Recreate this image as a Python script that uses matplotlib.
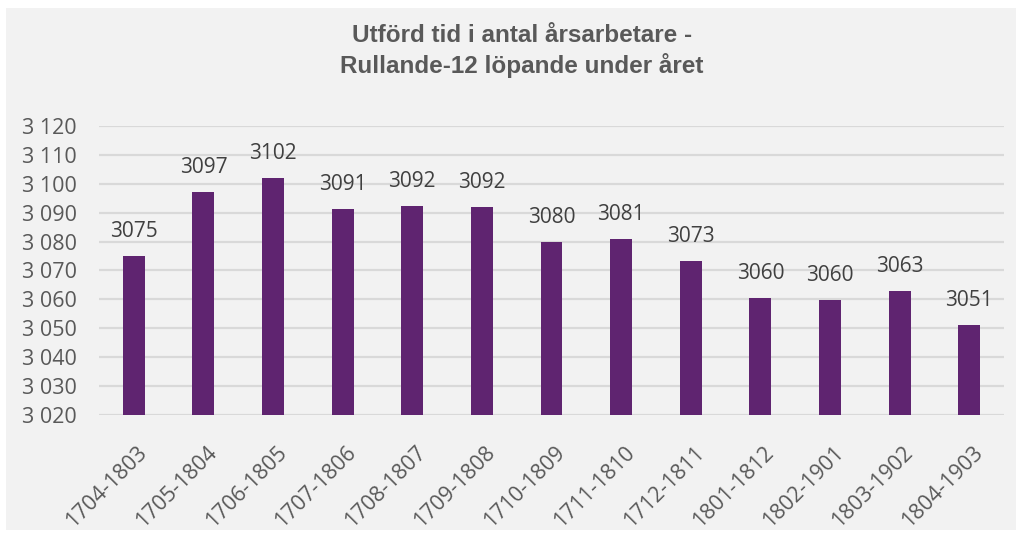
import matplotlib
matplotlib.use('Agg')
from matplotlib import pyplot as plt
from matplotlib.patches import Rectangle
from matplotlib.transforms import ScaledTranslation

# Data
periods = ['1704-1803', '1705-1804', '1706-1805', '1707-1806', '1708-1807',
           '1709-1808', '1710-1809', '1711-1810', '1712-1811', '1801-1812',
           '1802-1901', '1803-1902', '1804-1903']
values = [3075.0, 3097.2, 3102.0, 3091.3, 3092.4, 3092.0, 3079.8,
          3080.8, 3073.2, 3060.4, 3059.7, 3062.8, 3051.1]
y_ticks = [3020, 3030, 3040, 3050, 3060, 3070, 3080, 3090, 3100, 3110, 3120]

bar_color = '#5f2470'
text_color = '#595959'
bg_color = '#f2f2f2'

plt.rcParams['font.family'] = ['Open Sans', 'DejaVu Sans']

fig = plt.figure(figsize=(10.16, 5.33), dpi=100)
fig.patch.set_facecolor('white')
fig.patches.append(Rectangle((6 / 1016, 3 / 533), 1010 / 1016, 522 / 533,
                             transform=fig.transFigure, facecolor=bg_color,
                             edgecolor='none', zorder=-10))

ax = fig.add_axes([99 / 1016, 1 - 415 / 533, 905 / 1016, 289 / 533])
ax.patch.set_alpha(0)

x = list(range(len(periods)))
bars = ax.bar(x, values, width=0.316, color=bar_color, zorder=3)
ax.set_ylim(3020, 3120)
ax.set_xlim(-0.5, len(periods) - 0.5)

ax.bar_label(bars, labels=[f'{round(v)}' for v in values], padding=10,
             fontsize=15, color='#404040')

ax.set_yticks(y_ticks)
ax.set_yticklabels([f'{t:,}'.replace(',', ' ') for t in y_ticks])
ax.yaxis.grid(True, color='#d9d9d9', linewidth=1.6, zorder=0)
ax.set_axisbelow(True)
for s in ax.spines.values():
    s.set_visible(False)
ax.tick_params(axis='y', length=0, pad=16, labelsize=15.5, labelcolor=text_color)
ax.tick_params(axis='x', length=0, pad=0, labelsize=15.5, labelcolor=text_color)

ax.set_xticks(x)
ax.set_xticklabels(periods, rotation=45, ha='right', va='top',
                   rotation_mode='anchor')
offset = ScaledTranslation(3 / 100, -27 / 100, fig.dpi_scale_trans)
for lbl in ax.get_xticklabels():
    lbl.set_transform(lbl.get_transform() + offset)

title_font = dict(ha='center', va='center', fontsize=17.5, fontweight='bold',
                  color=text_color, family=['Liberation Sans', 'DejaVu Sans'])
fig.text(522 / 1016, 1 - 35 / 533, 'Utförd tid i antal årsarbetare -', **title_font)
fig.text(522 / 1016, 1 - 66 / 533, 'Rullande-12 löpande under året', **title_font)

fig.savefig('out.png', dpi=100, facecolor='white')
